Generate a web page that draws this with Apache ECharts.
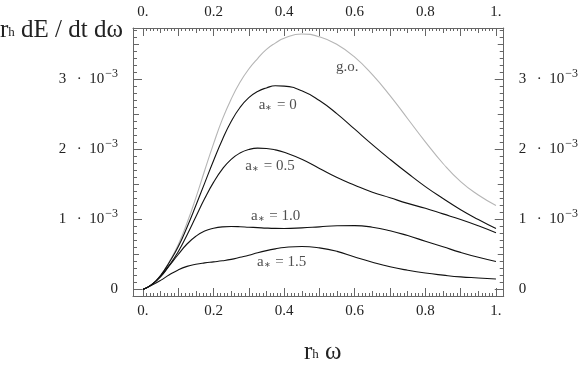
<!DOCTYPE html>
<html><head><meta charset="utf-8">
<script src="https://cdn.jsdelivr.net/npm/echarts@6/dist/echarts.min.js"></script>
<style>html,body{margin:0;padding:0;background:#fff}#c{width:581px;height:365px}</style>
</head><body><div id="c"></div>
<script>
// ---- data (values in units of 10^-3) ----
const omega   = [0, 0.025, 0.05, 0.075, 0.1, 0.125, 0.15, 0.175, 0.2, 0.225, 0.25, 0.275, 0.3, 0.325, 0.35, 0.375, 0.4, 0.45, 0.5, 0.55, 0.6, 0.65, 0.7, 0.75, 0.8, 0.85, 0.9, 0.95, 1.0];
const goVals  = [0, 0.07, 0.20, 0.40, 0.64, 0.95, 1.31, 1.70, 2.08, 2.43, 2.72, 2.96, 3.15, 3.30, 3.43, 3.52, 3.59, 3.65, 3.61, 3.50, 3.32, 3.07, 2.77, 2.44, 2.11, 1.80, 1.54, 1.35, 1.20];
const a0Vals  = [0, 0.07, 0.20, 0.39, 0.61, 0.89, 1.20, 1.52, 1.84, 2.14, 2.40, 2.60, 2.74, 2.83, 2.88, 2.91, 2.905, 2.84, 2.70, 2.51, 2.29, 2.07, 1.86, 1.66, 1.47, 1.30, 1.14, 1.00, 0.87];
const a05Vals = [0, 0.07, 0.19, 0.35, 0.54, 0.78, 1.04, 1.30, 1.53, 1.72, 1.86, 1.95, 2.00, 2.02, 2.015, 1.995, 1.96, 1.86, 1.73, 1.60, 1.49, 1.39, 1.31, 1.23, 1.16, 1.08, 1.00, 0.91, 0.81];
const a1Vals  = [0, 0.07, 0.18, 0.34, 0.50, 0.65, 0.76, 0.835, 0.875, 0.895, 0.90, 0.897, 0.89, 0.884, 0.877, 0.873, 0.872, 0.88, 0.895, 0.91, 0.912, 0.89, 0.84, 0.77, 0.69, 0.61, 0.53, 0.46, 0.40];
const a15Vals = [0, 0.06, 0.13, 0.21, 0.28, 0.33, 0.36, 0.38, 0.395, 0.41, 0.43, 0.46, 0.49, 0.525, 0.555, 0.58, 0.60, 0.615, 0.595, 0.545, 0.465, 0.39, 0.325, 0.275, 0.235, 0.205, 0.18, 0.165, 0.15];

// curve labels: [omega, value, text]
const curveLabels = [
  [0.579, 3.18, '{t|g.o.}'],
  [0.382, 2.636, '{t|a}{s|∗}{t| = 0}'],
  [0.360, 1.764, '{t|a}{s|∗}{t| = 0.5}'],
  [0.376, 1.05, '{t|a}{s|∗}{t| = 1.0}'],
  [0.393, 0.386, '{t|a}{s|∗}{t| = 1.5}']
];

// ticks & tick labels
const xMajorTicks = [0, 0.1, 0.2, 0.3, 0.4, 0.5, 0.6, 0.7, 0.8, 0.9, 1.0];
const xMediumTicks = [0.05, 0.15, 0.25, 0.35, 0.45, 0.55, 0.65, 0.75, 0.85, 0.95];
const xLabelValues = [0, 0.2, 0.4, 0.6, 0.8, 1.0];
const xLabelTexts = ['0.', '0.2', '0.4', '0.6', '0.8', '1.'];
const yMajorTicks = [0, 1, 2, 3];
const yMediumTicks = [0.5, 1.5, 2.5, 3.5];
const yLabelValues = [0, 1, 2, 3];
const yLabelTexts = ['0', '1', '2', '3'];
const xMinorTicks = []; for (let i = 0; i <= 100; i++) xMinorTicks.push(i / 100);
const yMinorTicks = []; for (let i = 0; i <= 37; i++) yMinorTicks.push(i / 10);

const FONT = 'Liberation Serif';
const FRAME = '#666';
const TXT = '#222';
const XMIN = -0.028, XMAX = 1.022, YMIN = -0.093, YMAX = 3.736;

function pairs(v) { return omega.map((w, i) => [w, v[i]]); }
function xLab(v) { const i = xLabelValues.findIndex(a => Math.abs(a - v) < 1e-6); return i >= 0 ? xLabelTexts[i] : ''; }
function yLab(v) {
  const i = yLabelValues.findIndex(a => Math.abs(a - v) < 1e-6);
  if (i < 0) return '';
  if (yLabelValues[i] === 0) return '{n|' + yLabelTexts[i] + '}';
  return '{n|' + yLabelTexts[i] + '\u2002\u2009·\u200210}{e|\u22123}';
}
const yRich = {
  n: { fontFamily: FONT, fontSize: 15, color: TXT, lineHeight: 24 },
  e: { fontFamily: FONT, fontSize: 12, color: TXT, verticalAlign: 'top', lineHeight: 13, padding: [0, 0, 0, 1] }
};

function xAx(pos, ticks, len, main) {
  return {
    type: 'value', min: XMIN, max: XMAX, position: pos,
    axisLine: { show: main, onZero: false, lineStyle: { color: FRAME, width: 1 } },
    axisTick: { show: true, inside: true, length: len, customValues: ticks, lineStyle: { color: FRAME, width: 1 } },
    axisLabel: main ? { show: true, customValues: xLabelValues, formatter: xLab, margin: 8, fontFamily: FONT, fontSize: 15, color: TXT } : { show: false },
    splitLine: { show: false }
  };
}
function yAx(pos, ticks, len, main) {
  return {
    type: 'value', min: YMIN, max: YMAX, position: pos,
    axisLine: { show: main, onZero: false, lineStyle: { color: FRAME, width: 1 } },
    axisTick: { show: true, inside: true, length: len, customValues: ticks, lineStyle: { color: FRAME, width: 1 } },
    axisLabel: main ? { show: true, customValues: yLabelValues, formatter: yLab, margin: 15, rich: yRich, color: TXT } : { show: false },
    splitLine: { show: false }
  };
}

const titleRich = {
  r: { fontFamily: FONT, fontSize: 25, fontWeight: 'normal', color: TXT, lineHeight: 28 },
  h: { fontFamily: FONT, fontSize: 13, fontWeight: 'normal', color: TXT, verticalAlign: 'bottom', lineHeight: 13, padding: [0, 0, 5, 0] }
};

const chart = echarts.init(document.getElementById('c'), null, { renderer: 'canvas' });
chart.setOption({
  animation: false,
  backgroundColor: '#fff',
  title: [
    { text: '{r|r}{h|h}{r| dE / dt dω}', left: -5, top: 11, textStyle: { rich: titleRich } },
    { text: '{r|r}{h|h}{r| ω}', left: 299, top: 333, textStyle: { rich: titleRich } }
  ],
  grid: { left: 133, top: 28, width: 374, height: 268, containLabel: false },
  xAxis: [
    xAx('bottom', xMajorTicks, 8, true),
    xAx('top', xMajorTicks, 8, true),
    xAx('bottom', xMediumTicks, 5, false),
    xAx('top', xMediumTicks, 5, false),
    xAx('bottom', xMinorTicks, 3, false),
    xAx('top', xMinorTicks, 3, false)
  ],
  yAxis: [
    yAx('left', yMajorTicks, 9, true),
    yAx('right', yMajorTicks, 9, true),
    yAx('left', yMediumTicks, 6, false),
    yAx('right', yMediumTicks, 6, false),
    yAx('left', yMinorTicks, 4, false),
    yAx('right', yMinorTicks, 4, false)
  ],
  series: [
    { name: 'g.o.', type: 'line', smooth: 0.5, showSymbol: false, data: pairs(goVals), lineStyle: { color: '#b5b5b5', width: 1.1 }, z: 2 },
    { name: 'a0', type: 'line', smooth: 0.5, showSymbol: false, data: pairs(a0Vals), lineStyle: { color: '#111', width: 1.1 }, z: 3 },
    { name: 'a05', type: 'line', smooth: 0.5, showSymbol: false, data: pairs(a05Vals), lineStyle: { color: '#111', width: 1.1 }, z: 3 },
    { name: 'a1', type: 'line', smooth: 0.5, showSymbol: false, data: pairs(a1Vals), lineStyle: { color: '#111', width: 1.1 }, z: 3 },
    { name: 'a15', type: 'line', smooth: 0.5, showSymbol: false, data: pairs(a15Vals), lineStyle: { color: '#111', width: 1.1 }, z: 3 },
    {
      name: 'labels', type: 'scatter', symbolSize: 1, itemStyle: { color: 'rgba(0,0,0,0)' },
      data: curveLabels.map(d => ({ value: [d[0], d[1]], name: d[2] })),
      label: {
        show: true, position: 'inside', formatter: p => p.name,
        rich: {
          t: { fontFamily: FONT, fontSize: 15, color: TXT },
          s: { fontFamily: FONT, fontSize: 8, color: TXT, verticalAlign: 'bottom', padding: [0, 1, 1, 0] }
        }
      },
      z: 5
    }
  ]
});
</script></body></html>
